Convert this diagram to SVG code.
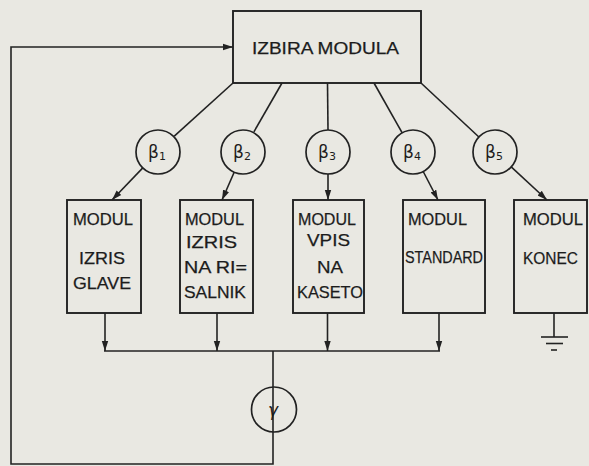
<svg xmlns="http://www.w3.org/2000/svg" width="589" height="466" viewBox="0 0 589 466">
<defs>
<marker id="ah" viewBox="0 0 10 10" refX="10" refY="5" markerWidth="10" markerHeight="10" markerUnits="userSpaceOnUse" orient="auto">
<path d="M0,1.8 L10,5 L0,8.2 Z" fill="#222"/>
</marker>
<style>
.bx{fill:none;stroke:#222;stroke-width:1.9}
.ln{fill:none;stroke:#222;stroke-width:1.6}
.ci{fill:none;stroke:#222;stroke-width:1.7}
.t{font-family:"Liberation Sans","DejaVu Sans",sans-serif;font-size:17px;fill:#1c1c1c;stroke:#1c1c1c;stroke-width:0.25}
.m{text-anchor:middle}
.g{font-family:"DejaVu Sans",sans-serif;font-size:17px;fill:#1c1c1c;text-anchor:middle}
.s{font-size:11px}
</style>
</defs>
<rect x="0" y="0" width="589" height="466" fill="#e9e8e2"/>

<g id="connectors">
<polyline class="ln" points="273,351 273,464 11,464 11,47 233,47" marker-end="url(#ah)"/>
<line class="ln" x1="233" y1="83" x2="174.3" y2="136.2"/>
<line class="ln" x1="282" y1="83" x2="253.9" y2="131.9"/>
<line class="ln" x1="327.5" y1="83" x2="328" y2="130"/>
<line class="ln" x1="374" y1="83" x2="402.2" y2="132.9"/>
<line class="ln" x1="421" y1="83" x2="478.9" y2="137"/>
<line class="ln" x1="142.8" y1="167.9" x2="112" y2="200" marker-end="url(#ah)"/>
<line class="ln" x1="234.2" y1="172.2" x2="222" y2="200" marker-end="url(#ah)"/>
<line class="ln" x1="328" y1="174" x2="328" y2="200" marker-end="url(#ah)"/>
<line class="ln" x1="423.2" y1="171.5" x2="438" y2="200" marker-end="url(#ah)"/>
<line class="ln" x1="511.2" y1="166.9" x2="547" y2="200" marker-end="url(#ah)"/>
<line class="ln" x1="105" y1="313" x2="105" y2="351" marker-end="url(#ah)"/>
<line class="ln" x1="217" y1="313" x2="217" y2="351" marker-end="url(#ah)"/>
<line class="ln" x1="327.5" y1="313" x2="327.5" y2="351" marker-end="url(#ah)"/>
<line class="ln" x1="439" y1="313" x2="439" y2="351" marker-end="url(#ah)"/>
<line class="ln" x1="104" y1="351" x2="440" y2="351"/>
<line class="ln" x1="554" y1="313" x2="554" y2="337"/>
<line class="ln" x1="541" y1="337" x2="568" y2="337"/>
<line class="ln" x1="546" y1="343.5" x2="563" y2="343.5"/>
<line class="ln" x1="551" y1="350" x2="557" y2="350"/>
</g>

<g id="izbira">
<rect class="bx" x="233" y="11" width="188" height="72"/>
<text class="t" x="252" y="54" textLength="147" lengthAdjust="spacingAndGlyphs">IZBIRA MODULA</text>
</g>

<g id="b1"><circle class="ci" cx="158" cy="152" r="22"/><text class="g" x="157" y="158">β<tspan class="s" dy="2">1</tspan></text></g>
<g id="b2"><circle class="ci" cx="243" cy="152" r="22"/><text class="g" x="242" y="158">β<tspan class="s" dy="2">2</tspan></text></g>
<g id="b3"><circle class="ci" cx="328" cy="152" r="22"/><text class="g" x="327" y="158">β<tspan class="s" dy="2">3</tspan></text></g>
<g id="b4"><circle class="ci" cx="413" cy="152" r="22"/><text class="g" x="412" y="158">β<tspan class="s" dy="2">4</tspan></text></g>
<g id="b5"><circle class="ci" cx="495" cy="152" r="22"/><text class="g" x="494" y="158">β<tspan class="s" dy="2">5</tspan></text></g>

<g id="m1">
<rect class="bx" x="67" y="200" width="74" height="113"/>
<text class="t" x="73" y="225" textLength="60" lengthAdjust="spacingAndGlyphs">MODUL</text>
<text class="t" x="79" y="264" textLength="46" lengthAdjust="spacingAndGlyphs">IZRIS</text>
<text class="t" x="73" y="289" textLength="58" lengthAdjust="spacingAndGlyphs">GLAVE</text>
</g>
<g id="m2">
<rect class="bx" x="180" y="200" width="73" height="113"/>
<text class="t" x="185" y="225" textLength="59" lengthAdjust="spacingAndGlyphs">MODUL</text>
<text class="t" x="186" y="248" textLength="51" lengthAdjust="spacingAndGlyphs">IZRIS</text>
<text class="t" x="184" y="273" textLength="63" lengthAdjust="spacingAndGlyphs">NA RI=</text>
<text class="t" x="184" y="298" textLength="62" lengthAdjust="spacingAndGlyphs">SALNIK</text>
</g>
<g id="m3">
<rect class="bx" x="293" y="200" width="71" height="113"/>
<text class="t" x="298" y="225" textLength="58" lengthAdjust="spacingAndGlyphs">MODUL</text>
<text class="t" x="307" y="246" textLength="43" lengthAdjust="spacingAndGlyphs">VPIS</text>
<text class="t" x="317" y="273" textLength="26" lengthAdjust="spacingAndGlyphs">NA</text>
<text class="t" x="297" y="298" textLength="66" lengthAdjust="spacingAndGlyphs">KASETO</text>
</g>
<g id="m4">
<rect class="bx" x="403" y="200" width="82" height="113"/>
<text class="t" x="408" y="225" textLength="59" lengthAdjust="spacingAndGlyphs">MODUL</text>
<text class="t" x="405" y="263" textLength="78" lengthAdjust="spacingAndGlyphs">STANDARD</text>
</g>
<g id="m5">
<rect class="bx" x="514" y="200" width="73" height="113"/>
<text class="t" x="523" y="225" textLength="60" lengthAdjust="spacingAndGlyphs">MODUL</text>
<text class="t" x="523" y="264" textLength="55" lengthAdjust="spacingAndGlyphs">KONEC</text>
</g>

<g id="gamma">
<circle class="ci" cx="274" cy="409.5" r="22.5"/>
<text class="g" x="273" y="416" font-style="italic">γ</text>
</g>
</svg>
